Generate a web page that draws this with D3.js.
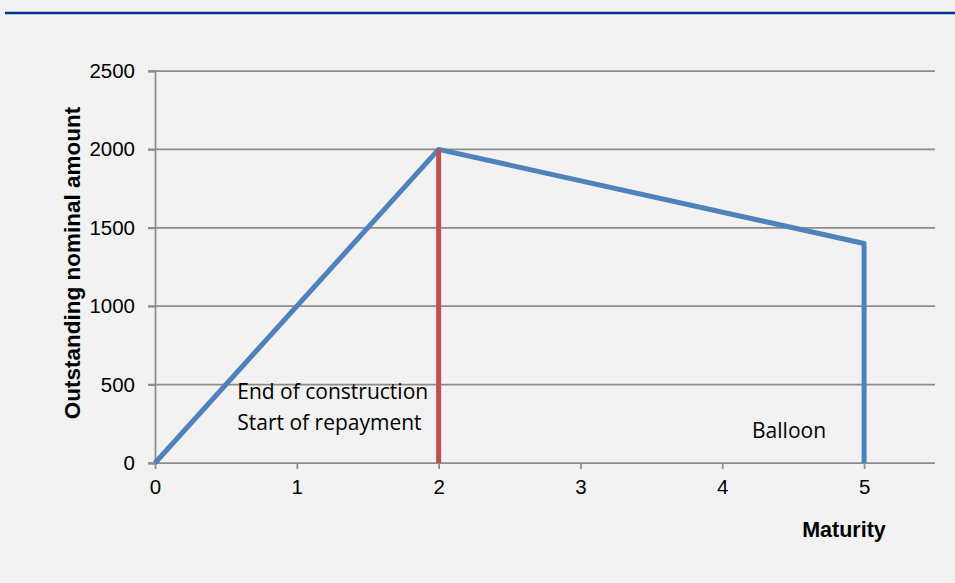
<!DOCTYPE html>
<html>
<head>
<meta charset="utf-8">
<script src="https://cdn.jsdelivr.net/npm/d3@7"></script>
<style>
  body { margin: 0; background: #f2f2f2; }
</style>
</head>
<body>
<div class="holder"></div>
<script>
// data
var loanPath = [
  { x: 0, y: 0 },
  { x: 2, y: 2000 },
  { x: 5, y: 1400 },
  { x: 5, y: 0 }
]
var constructionEnd = [
  { x: 2, y: 0 },
  { x: 2, y: 2000 }
]
var xTicks = [0, 1, 2, 3, 4, 5]
var yTicks = [0, 500, 1000, 1500, 2000, 2500]
var notes = [
  { x: 0.58, y: 410, lines: ['End of construction', 'Start of repayment'] },
  { x: 4.21, y: 160, lines: ['Balloon'] }
]

var width = 955,
    height = 583,
    plotLeft = 155,
    plotRight = 935,
    plotTop = 71,
    plotBottom = 463

var svg = d3.select('.holder')
  .append('svg')
  .attr('width', width)
  .attr('height', height)
  .style('display', 'block')

svg.append('rect')
  .attr('width', width)
  .attr('height', height)
  .attr('fill', '#f2f2f2')

// header rule
svg.append('line')
  .attr('x1', 5)
  .attr('x2', width)
  .attr('y1', 13)
  .attr('y2', 13)
  .attr('stroke', '#003399')
  .attr('stroke-width', 2.5)

var xScale = d3.scaleLinear()
  .domain([0, 5.5])
  .range([plotLeft, plotRight])

var yScale = d3.scaleLinear()
  .domain([0, 2500])
  .range([plotBottom, plotTop])

// gridlines
svg.append('g')
  .selectAll('line')
  .data(yTicks)
  .enter()
  .append('line')
  .attr('x1', plotLeft - 7)
  .attr('x2', plotRight)
  .attr('y1', function(d) { return yScale(d) })
  .attr('y2', function(d) { return yScale(d) })
  .attr('stroke', '#8c8c8c')
  .attr('stroke-width', 1.75)

var yAxis = d3.axisLeft(yScale)
  .tickValues(yTicks)
  .tickFormat(d3.format('d'))
  .tickSize(7)
  .tickPadding(13)

var yChart = svg.append('g')
  .attr('transform', 'translate(' + plotLeft + ',0)')
  .call(yAxis)
yChart.select('.domain').attr('stroke', '#8c8c8c').attr('stroke-width', 1.75)
yChart.selectAll('.tick line').attr('stroke', '#8c8c8c').attr('stroke-width', 1.75)
yChart.selectAll('text')
  .style('font-family', 'Arial, "Liberation Sans", sans-serif')
  .style('font-size', '20.5px')
  .attr('fill', '#000')

var xAxis = d3.axisBottom(xScale)
  .tickValues(xTicks)
  .tickFormat(d3.format('d'))
  .tickSize(6)
  .tickPadding(10)

var xChart = svg.append('g')
  .attr('transform', 'translate(0,' + plotBottom + ')')
  .call(xAxis)
xChart.select('.domain').remove()
xChart.selectAll('.tick line').attr('stroke', '#8c8c8c').attr('stroke-width', 1.75)
xChart.selectAll('text')
  .style('font-family', 'Arial, "Liberation Sans", sans-serif')
  .style('font-size', '20.5px')
  .attr('fill', '#000')

var line = d3.line()
  .x(function(d) { return xScale(d.x) })
  .y(function(d) { return yScale(d.y) })

svg.append('path')
  .datum(loanPath)
  .attr('d', line)
  .attr('fill', 'none')
  .attr('stroke', '#4f81bd')
  .attr('stroke-width', 5)
  .attr('stroke-linejoin', 'round')

svg.append('path')
  .datum(constructionEnd)
  .attr('d', line)
  .attr('fill', 'none')
  .attr('stroke', '#c0504d')
  .attr('stroke-width', 5)

// annotations
notes.forEach(function(n) {
  var t = svg.append('text')
    .attr('x', xScale(n.x))
    .attr('y', yScale(n.y))
    .style('font-family', '"Open Sans", "Noto Sans", sans-serif')
    .style('font-size', '21px')
    .attr('fill', '#000')
  n.lines.forEach(function(s, i) {
    t.append('tspan')
      .attr('x', xScale(n.x))
      .attr('dy', i == 0 ? 0 : 31)
      .text(s)
  })
})

svg.append('text')
  .attr('transform', 'translate(80,263) rotate(-90)')
  .attr('text-anchor', 'middle')
  .style('font-family', 'Arial, "Liberation Sans", sans-serif')
  .style('font-size', '22.5px')
  .style('font-weight', 'bold')
  .text('Outstanding nominal amount')

svg.append('text')
  .attr('x', 844)
  .attr('y', 537)
  .attr('text-anchor', 'middle')
  .style('font-family', 'Arial, "Liberation Sans", sans-serif')
  .style('font-size', '21.5px')
  .style('font-weight', 'bold')
  .text('Maturity')
</script>
</body>
</html>
